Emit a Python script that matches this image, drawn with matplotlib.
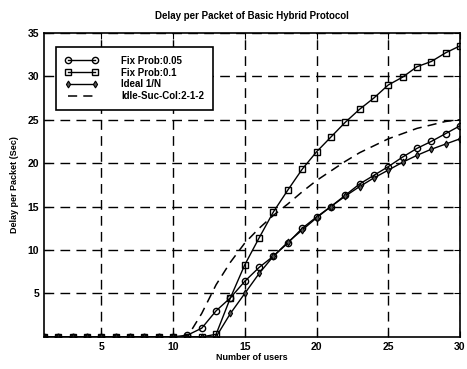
import matplotlib
matplotlib.use("Agg")
import matplotlib.pyplot as plt
import numpy as np

users = list(range(1, 31))

fix_prob_005 = [0, 0, 0, 0, 0, 0, 0, 0, 0, 0,
                0.2, 1.0, 3.0, 4.5, 6.4, 8.0, 9.3, 10.8, 12.5, 13.8,
                15.0, 16.3, 17.6, 18.6, 19.6, 20.7, 21.7, 22.5, 23.4, 24.3]
fix_prob_01 = [0, 0, 0, 0, 0, 0, 0, 0, 0, 0,
               0, 0, 0.3, 4.5, 8.3, 11.4, 14.4, 16.9, 19.3, 21.3,
               23.0, 24.7, 26.2, 27.5, 29.0, 29.9, 31.1, 31.7, 32.7, 33.5]
ideal_1n = [0, 0, 0, 0, 0, 0, 0, 0, 0, 0,
            0, 0, 0, 2.7, 5.0, 7.3, 9.3, 10.9, 12.3, 13.7,
            15.0, 16.2, 17.3, 18.3, 19.2, 20.1, 20.9, 21.6, 22.2, 22.8]
idle_suc_col = [0, 0, 0, 0, 0, 0, 0, 0, 0, 0,
                0, 2.7, 6.0, 8.6, 10.8, 12.5, 14.0, 15.3, 16.7, 18.0,
                19.1, 20.2, 21.2, 22.0, 22.8, 23.4, 24.0, 24.4, 24.8, 25.0]

series_labels = ["Fix Prob:0.05", "Fix Prob:0.1", "Ideal 1/N", "Idle-Suc-Col:2-1-2"]
x_ticks = [5, 10, 15, 20, 25, 30]
y_ticks = [5, 10, 15, 20, 25, 30, 35]

plt.rcParams["font.family"] = ["Liberation Sans", "DejaVu Sans"]
plt.rcParams["font.weight"] = "bold"

fig = plt.figure(figsize=(4.67, 3.69), dpi=100)
ax = fig.add_axes([0.094, 0.087, 0.891, 0.824])

ax.plot(users, fix_prob_005, "-o", color="black", lw=1.0, ms=4.5,
        mfc="none", mec="black", mew=1.0, label=series_labels[0])
ax.plot(users, fix_prob_01, "-s", color="black", lw=1.0, ms=4.5,
        mfc="none", mec="black", mew=1.0, label=series_labels[1])
ax.plot(users, ideal_1n, "-d", color="black", lw=1.0, ms=3.5,
        mfc="#555555", mec="black", mew=0.8, label=series_labels[2])
ax.plot(users, idle_suc_col, "--", color="black", lw=1.1, dashes=(6, 4),
        label=series_labels[3])

ax.set_xlim(1, 30)
ax.set_ylim(0, 35)
ax.set_xticks(x_ticks)
ax.set_yticks(y_ticks)
ax.tick_params(direction="in", top=True, right=True, labelsize=7.5, length=4)
for lbl in ax.get_xticklabels() + ax.get_yticklabels():
    lbl.set_fontweight("bold")

ax.grid(True, color="black", linestyle=(0, (7, 4.5)), linewidth=1.0)
for s in ax.spines.values():
    s.set_linewidth(1.2)

ax.set_title("Delay per Packet of Basic Hybrid Protocol", fontsize=7, fontweight="bold", pad=10)
ax.set_xlabel("Number of users", fontsize=6.5, fontweight="bold", labelpad=1)
ax.set_ylabel("Delay per Packet (Sec)", fontsize=6.5, fontweight="bold", labelpad=6)

leg = ax.legend(loc="upper left", bbox_to_anchor=(0.018, 0.97), numpoints=2,
                fontsize=7, frameon=True, fancybox=False, handlelength=3.4,
                borderpad=0.9, labelspacing=0.2, handletextpad=2.4, framealpha=1)
leg.get_frame().set_edgecolor("black")
leg.get_frame().set_linewidth(1.2)
for t in leg.get_texts():
    t.set_fontweight("bold")

fig.savefig("out.png", dpi=100)
